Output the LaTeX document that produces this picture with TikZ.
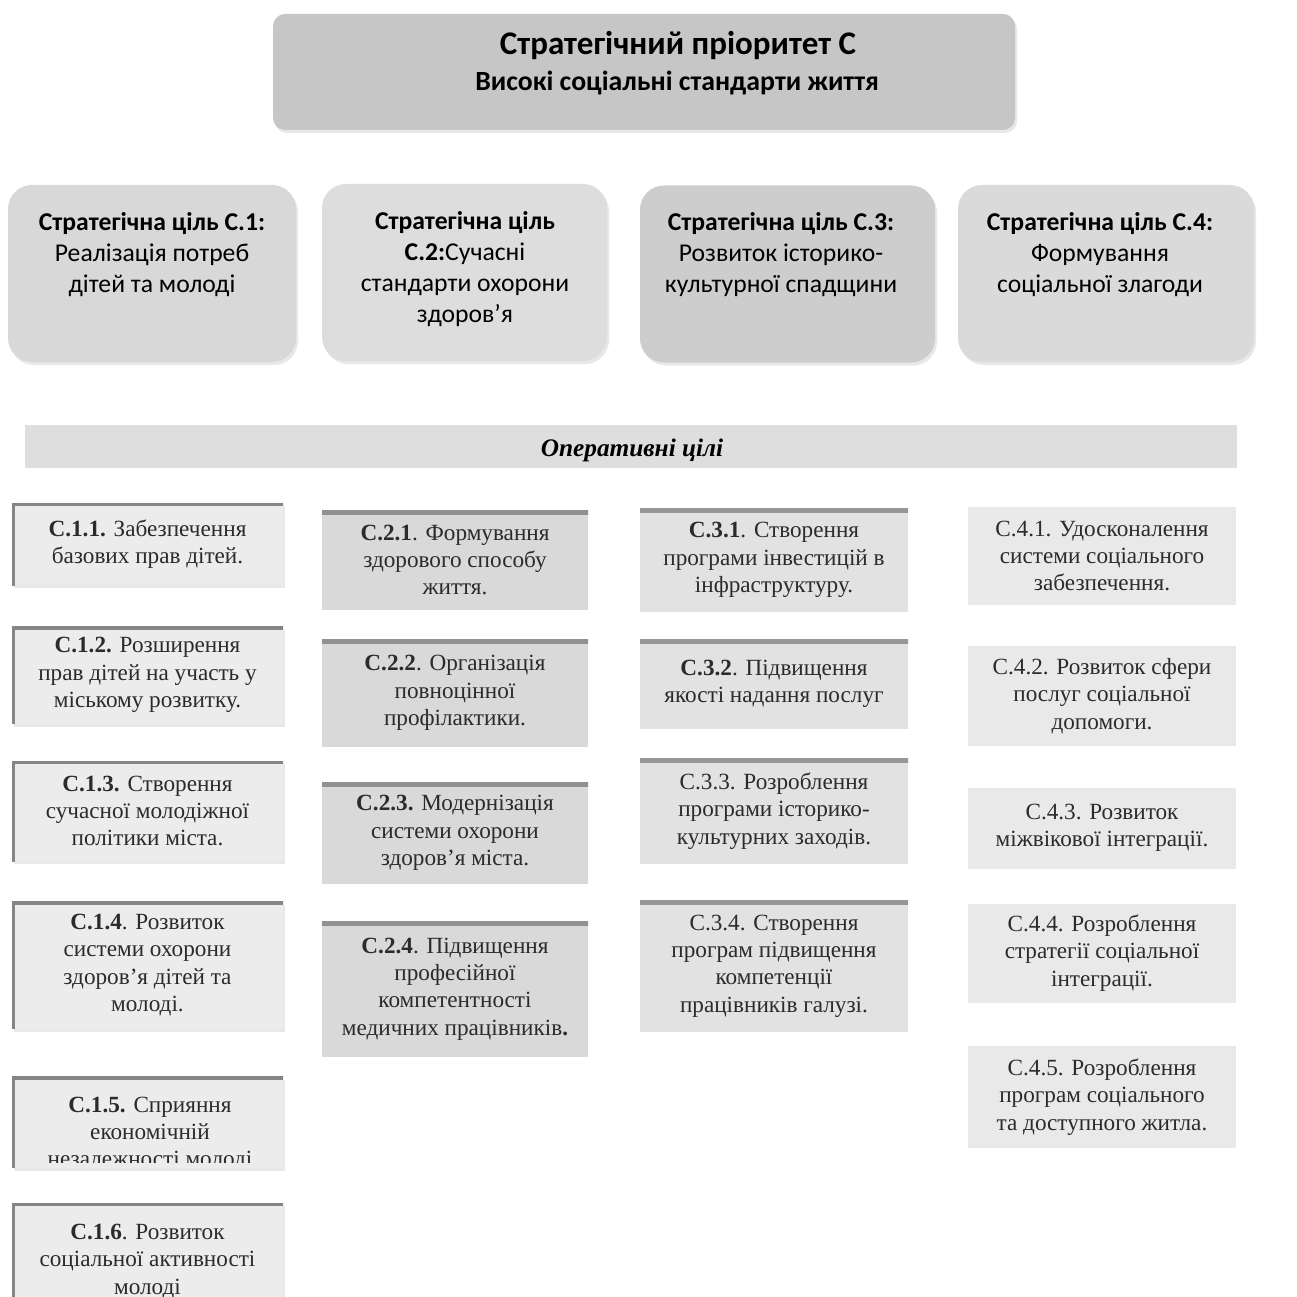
\documentclass[tikz,border=0pt]{standalone}
\usepackage{fontspec}
\setmainfont{Liberation Serif}
\newfontfamily\calib{Carlito}
\usetikzlibrary{shadows}
\newdimen\pxu \pxu=0.02cm
\definecolor{topgray}{HTML}{C6C6C6}
\definecolor{goalA}{HTML}{D8D8D8}
\definecolor{goalB}{HTML}{DDDDDD}
\definecolor{goalC}{HTML}{CDCDCD}
\definecolor{goalD}{HTML}{DADADA}
\definecolor{bandgray}{HTML}{DEDEDE}
\definecolor{fillA}{HTML}{ECECEC}
\definecolor{fillB}{HTML}{D9D9D9}
\definecolor{fillC}{HTML}{E2E2E2}
\definecolor{fillD}{HTML}{E9E9E9}
\definecolor{edgegray}{HTML}{858585}
\definecolor{opink}{HTML}{2B2B2B}
\begin{document}
\begin{tikzpicture}[x=0.02cm, y=-0.02cm, line join=round, line cap=round,
  soft/.style={drop shadow={opacity=0.18, shadow xshift=2\pxu, shadow yshift=-3\pxu}},
  prio/.style={fill=topgray, rounded corners=12\pxu, minimum width=742\pxu, minimum height=116\pxu, soft},
  goal/.style={rounded corners=24\pxu, minimum height=177\pxu, soft},
  goaltxt/.style={anchor=north, align=center, inner sep=0pt, font=\calib\fontsize{14.6}{17.6}\selectfont},
  band/.style={fill=bandgray, minimum width=1212\pxu, minimum height=43\pxu},
  optxt/.style={align=center, inner sep=0pt, text=opink, font=\fontsize{13.2}{15.5}\selectfont},
  opa/.style={fill=fillA, minimum width=271\pxu, optxt, soft,
    path picture={
      \draw[line width=6\pxu, edgegray] (path picture bounding box.north west) -- (path picture bounding box.north east);
      \draw[line width=5\pxu, edgegray] (path picture bounding box.north west) -- (path picture bounding box.south west);}},
  opb/.style={fill=fillB, minimum width=266\pxu, optxt,
    path picture={\draw[line width=9\pxu, edgegray!90] (path picture bounding box.north west) -- (path picture bounding box.north east);}},
  opc/.style={fill=fillC, minimum width=268\pxu, optxt,
    path picture={\draw[line width=9\pxu, edgegray!85] (path picture bounding box.north west) -- (path picture bounding box.north east);}},
  opd/.style={fill=fillD, minimum width=268\pxu, optxt}]

\useasboundingbox (0,0) rectangle (1297,1297);
\clip (0,0) rectangle (1297,1297);
\fill[white] (0,0) rectangle (1297,1297);

% strategic priority
\node[prio] (prio) at (644,72) {};
\node[font=\calib\bfseries\fontsize{18.8}{22}\selectfont] (priot) at (678,46) {Стратегічний пріоритет С};
\node[font=\calib\bfseries\fontsize{15.8}{18}\selectfont] (prios) at (677,83) {Високі соціальні стандарти життя};

% strategic goals
\node[goal, fill=goalA, minimum width=288\pxu] (s1) at (152,273.5) {};
\node[goal, fill=goalB, minimum width=285\pxu] (s2) at (464.5,272.5) {};
\node[goal, fill=goalC, minimum width=295\pxu] (s3) at (787.5,274) {};
\node[goal, fill=goalD, minimum width=296\pxu] (s4) at (1106,273.5) {};
\node[goaltxt] (s1t) at (152,212) {\textbf{Стратегічна ціль С.1:}\\Реалізація потреб\\дітей та молоді};
\node[goaltxt] (s2t) at (465,211) {\textbf{Стратегічна ціль}\\\textbf{С.2:}Сучасні\\стандарти охорони\\здоров’я};
\node[goaltxt] (s3t) at (781,212) {\textbf{Стратегічна ціль С.3:}\\Розвиток історико-\\культурної спадщини};
\node[goaltxt] (s4t) at (1100,212) {\textbf{Стратегічна ціль С.4:}\\Формування\\соціальної злагоди};

% operational goals
\node[band] (ops) at (631,446.5) {};
\node[font=\bfseries\itshape\fontsize{14.4}{16}\selectfont] (opst) at (632,450) {Оперативні цілі};

\node[opa, minimum height=82\pxu] (c11) at (147.5,544) {\textbf{С.1.1.} Забезпечення\\базових прав дітей.};
\node[opa, minimum height=97\pxu] (c12) at (147.5,675) {\textbf{С.1.2.} Розширення\\прав дітей на участь у\\міському розвитку.};
\node[opa, minimum height=100\pxu] (c13) at (147.5,811) {\textbf{С.1.3.} Створення\\сучасної молодіжної\\політики міста.};
\node[opa, minimum height=127\pxu] (c14) at (147.5,965) {\textbf{С.1.4}. Розвиток\\системи охорони\\здоров'я дітей та\\молоді.};
\node[opa, minimum height=91\pxu] (c15) at (147.5,1122) {};
\begin{scope}
  \clip (12,1070) rectangle (283,1162);
  \node[optxt] (c15t) at (150,1134) {\textbf{С.1.5.} Сприяння\\економічній\\незалежності молоді};
\end{scope}
\node[opa, minimum height=117\pxu] (c16) at (147.5,1261.5) {\textbf{С.1.6}. Розвиток\\соціальної активності\\молоді};

\node[opb, minimum height=100\pxu] (c21) at (455,560) {\textbf{С.2.1}. Формування\\здорового способу\\життя.};
\node[opb, minimum height=107\pxu] (c22) at (455,693) {\textbf{С.2.2}. Організація\\повноцінної\\профілактики.};
\node[opb, minimum height=102\pxu] (c23) at (455,833) {\textbf{С.2.3.} Модернізація\\системи охорони\\здоров'я міста.};
\node[opb, minimum height=135\pxu] (c24) at (455,989) {\textbf{С.2.4}. Підвищення\\професійної\\компетентності\\медичних працівників\textbf{.}};

\node[opc, minimum height=103\pxu] (c31) at (774,560) {\textbf{С.3.1}. Створення\\програми інвестицій в\\інфраструктуру.};
\node[opc, minimum height=89\pxu] (c32) at (774,684) {\textbf{С.3.2}. Підвищення\\якості надання послуг};
\node[opc, minimum height=105\pxu] (c33) at (774,811) {С.3.3. Розроблення\\програми історико-\\культурних заходів.};
\node[opc, minimum height=132\pxu] (c34) at (774,966) {С.3.4. Створення\\програм підвищення\\компетенції\\працівників галузі.};

\node[opd, minimum height=98\pxu] (c41) at (1102,556) {С.4.1. Удосконалення\\системи соціального\\забезпечення.};
\node[opd, minimum height=100\pxu] (c42) at (1102,696) {С.4.2. Розвиток сфери\\послуг соціальної\\допомоги.};
\node[opd, minimum height=81\pxu] (c43) at (1102,828) {С.4.3. Розвиток\\міжвікової інтеграції.};
\node[opd, minimum height=99\pxu] (c44) at (1102,953) {С.4.4. Розроблення\\стратегії соціальної\\інтеграції.};
\node[opd, minimum height=102\pxu] (c45) at (1102,1097) {С.4.5. Розроблення\\програм соціального\\та доступного житла.};
\end{tikzpicture}
\end{document}
